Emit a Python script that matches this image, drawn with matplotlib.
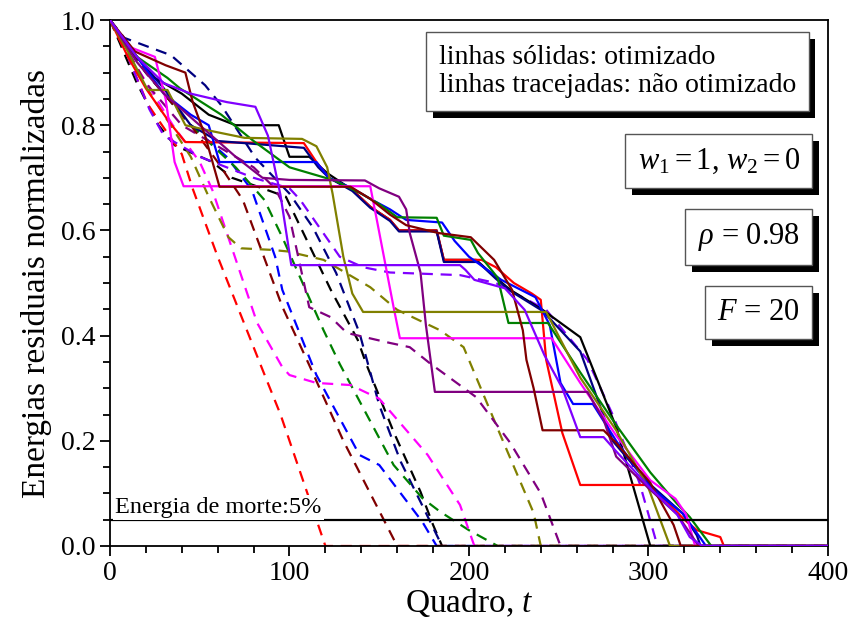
import numpy as np
import matplotlib
matplotlib.use('Agg')
import matplotlib.pyplot as plt
import matplotlib.patheffects as pe
from matplotlib.ticker import MultipleLocator

plt.rcParams['font.family'] = 'Liberation Serif'
plt.rcParams['mathtext.fontset'] = 'custom'
plt.rcParams['mathtext.rm'] = 'Liberation Serif'
plt.rcParams['mathtext.it'] = 'Liberation Serif:italic'

# ---- optimized runs (solid lines): (frame t, normalized residual energy)
preto_otim = [(0, 1), (10, .95), (25, .89), (40, .86), (55, .82), (70, .80), (94, .80), (100, .74), (111, .74),
              (121, .709), (135, .677), (145, .645), (156, .62), (161, .60), (182, .60), (186, .544), (204, .544),
              (215, .51), (223, .487), (241, .449), (262, .397), (282, .226), (301, 0), (400, 0)]
vermelho_otim = [(0, 1), (10, .93), (20, .87), (33, .806), (42, .768), (108, .766), (115, .73), (122, .70),
                 (135, .677), (145, .645), (156, .62), (161, .60), (182, .60), (186, .544), (207, .544), (215, .53),
                 (225, .50), (235, .48), (240, .468), (243, .354), (252, .215), (262, .116), (299, .116),
                 (310, .085), (320, .05), (327, .03), (340, .017), (342, 0), (400, 0)]
marinho_otim = [(0, 1), (15, .93), (30, .87), (45, .80), (60, .77), (108, .757), (116, .72), (122, .70),
                (135, .675), (145, .643), (156, .618), (161, .598), (182, .598), (186, .54), (205, .54), (215, .508),
                (223, .485), (241, .447), (262, .37), (280, .20), (300, .12), (319, .062), (327, .02), (329, 0),
                (400, 0)]
azul_otim = [(0, 1), (15, .93), (30, .86), (45, .82), (55, .80), (61, .73), (115, .73), (122, .70), (135, .68),
             (145, .66), (156, .64), (165, .62), (185, .615), (192, .58), (200, .55), (218, .506), (237, .473),
             (245, .42), (251, .31), (258, .27), (269, .27), (282, .20), (301, .112), (319, .062), (329, .015),
             (332, 0), (400, 0)]
verde_otim = [(0, 1), (15, .93), (32, .89), (39, .87), (62, .82), (80, .77), (100, .72), (125, .695), (140, .67),
              (150, .65), (160, .625), (182, .624), (186, .59), (201, .582), (205, .557), (216, .51), (222, .424),
              (244, .424), (262, .33), (282, .23), (301, .14), (316, .08), (323, .055), (335, 0), (400, 0)]
magenta_otim = [(0, 1), (10, .95), (25, .93), (31, .85), (36, .73), (41, .684), (145, .684), (149, .614),
                (158, .454), (161.5, .395), (246, .395), (262, .31), (282, .21), (301, .125), (315, .09),
                (321, .06), (326, 0), (400, 0)]
oliva_otim = [(0, 1), (10, .94), (21, .867), (32, .867), (42, .80), (55, .79), (75, .776), (107, .774),
              (115, .76), (121, .72), (124, .67), (130, .55), (135, .48), (141, .445), (243, .445), (262, .32),
              (282, .22), (300, .11), (312, 0), (400, 0)]
roxo_otim = [(0, 1), (15, .92), (30, .86), (50, .80), (70, .74), (85, .70), (100, .696), (142, .695), (150, .68),
             (161, .664), (165, .64), (167, .595), (173, .52), (176, .42), (181, .293), (266, .293), (275, .24),
             (282, .17), (300, .11), (316, .06), (325, .015), (328, 0), (400, 0)]
bordo_otim = [(0, 1), (14, .94), (31, .914), (42, .90), (46, .845), (53, .78), (61, .683), (134, .683),
              (145, .66), (156, .63), (165, .61), (183, .595), (201, .587), (214, .544), (224, .487), (230, .41),
              (232, .354), (236, .30), (241, .22), (275, .22), (282, .196), (301, .12), (314, .04), (318, 0),
              (400, 0)]
violeta_otim = [(0, 1), (15, .93), (30, .88), (45, .86), (65, .844), (81, .835), (88, .78), (95, .667),
                (101, .534), (195, .534), (198, .525), (203, .506), (220, .49), (231, .449), (242, .363),
                (252, .30), (262, .207), (275, .207), (282, .18), (301, .11), (316, .06), (323, .017), (330, 0),
                (400, 0)]

# ---- non-optimized runs (dashed lines)
preto_nao = [(0, 1), (15, .88), (27, .80), (36, .762), (57, .73), (68, .70), (85, .68), (98, .664), (123, .487),
             (138, .392), (143, .344), (158, .217), (173, .103), (180, .04), (185, 0), (400, 0)]
vermelho_nao = [(0, 1), (10, .93), (21, .84), (40, .745), (46, .68), (60, .55), (85, .335), (95, .25),
                (110, .10), (120, 0), (400, 0)]
marinho_nao = [(0, 1), (8, .966), (34, .933), (53, .876), (62, .838), (81, .738), (100, .67), (113, .606),
               (126, .519), (139, .405), (150, .268), (162, .16), (175, .07), (185, 0), (400, 0)]
azul_nao = [(0, 1), (20, .90), (45, .80), (65, .74), (79, .677), (92, .55), (96, .487), (115, .325),
            (139, .173), (150, .154), (174, .046), (182, 0), (400, 0)]
verde_nao = [(0, 1), (20, .90), (45, .80), (70, .72), (86, .658), (96, .587), (119, .41), (128, .346),
             (158, .154), (174, .091), (184, .065), (200, .03), (216, 0), (400, 0)]
magenta_nao = [(0, 1), (15, .91), (35, .80), (50, .73), (57, .677), (82, .424), (96, .34), (100, .325),
               (115, .31), (134, .306), (150, .28), (177, .173), (195, .078), (203, 0), (400, 0)]
oliva_nao = [(0, 1), (15, .90), (30, .82), (45, .74), (55, .664), (66, .587), (73, .566), (90, .563),
             (99, .56), (119, .544), (145, .492), (160, .449), (184, .41), (197, .378), (217, .215),
             (236, .063), (240, 0), (400, 0)]
roxo_nao = [(0, 1), (20, .88), (40, .80), (60, .76), (80, .72), (92, .68), (100, .626), (111, .454),
            (123, .435), (132, .405), (156, .386), (167, .378), (178, .348), (204, .283), (223, .196),
            (240, .10), (251, 0), (400, 0)]
bordo_nao = [(0, 1), (20, .90), (45, .80), (60, .73), (74, .658), (96, .455), (111, .344), (130, .20),
             (154, .04), (160, 0), (400, 0)]
violeta_nao = [(0, 1), (7, .956), (13, .905), (22, .83), (30, .78), (50, .74), (80, .70), (100, .68),
               (106, .658), (128, .55), (141, .53), (156, .52), (195, .515), (215, .50), (243, .449),
               (266, .354), (280, .25), (295, .12), (305, 0), (400, 0)]

cores = ['black', 'red', '#000080', 'blue', 'green', 'magenta', '#808000', '#800080', '#800000', '#8000FF']
series_nao = [preto_nao, vermelho_nao, marinho_nao, azul_nao, verde_nao, magenta_nao, oliva_nao, roxo_nao,
              bordo_nao, violeta_nao]
series_otim = [preto_otim, vermelho_otim, marinho_otim, azul_otim, verde_otim, magenta_otim, oliva_otim,
               roxo_otim, bordo_otim, violeta_otim]
energia_morte = 0.05

fig = plt.figure(figsize=(8.52, 6.22), dpi=100)
ax = fig.add_axes([0.1291, 0.1222, 0.8427, 0.8456])

for cor, s in zip(cores, series_nao):
    s = np.array(s)
    ax.plot(s[:, 0], s[:, 1], color=cor, lw=1.6, dashes=(5, 3.5), zorder=2)
for cor, s in zip(cores, series_otim):
    s = np.array(s)
    ax.plot(s[:, 0], s[:, 1], color=cor, lw=1.6, zorder=3)

# death energy threshold
ax.axhline(energia_morte, color='black', lw=1.6, zorder=4)
ax.text(3, energia_morte + 0.004, 'Energia de morte:5%', fontsize=17.5, va='bottom', ha='left', zorder=5,
        bbox=dict(boxstyle='square,pad=0.08', fc='white', ec='none'))

ax.set_xlim(0, 400)
ax.set_ylim(0, 1)
ax.xaxis.set_major_locator(MultipleLocator(100))
ax.xaxis.set_minor_locator(MultipleLocator(20))
ax.yaxis.set_major_locator(MultipleLocator(0.2))
ax.yaxis.set_minor_locator(MultipleLocator(0.05))
ax.yaxis.set_major_formatter(plt.FormatStrFormatter('%.1f'))
ax.tick_params(which='both', direction='out', labelsize=20, width=1.3)
ax.tick_params(which='major', length=7)
ax.tick_params(which='minor', length=5)
for sp in ax.spines.values():
    sp.set_linewidth(1.3)
ax.set_xlabel('Quadro, $t$', fontsize=24, labelpad=0)
ax.set_ylabel('Energias residuais normalizadas', fontsize=24, labelpad=6)


def caixa(x, y, texto, tam, pad, esp=1.05):
    t = ax.text(x, y, texto, transform=ax.transAxes, fontsize=tam, ha='right', va='center',
                multialignment='left', zorder=10, linespacing=esp,
                bbox=dict(boxstyle='square,pad=%g' % pad, fc='white', ec='#555555', lw=1))
    t.get_bbox_patch().set_path_effects([pe.SimplePatchShadow(offset=(5, -5), shadow_rgbFace='black', alpha=1),
                                         pe.Normal()])
    return t


caixa(0.9555, 0.902, 'linhas sólidas: otimizado\nlinhas tracejadas: não otimizado', 20, 0.45, esp=1.2)
caixa(0.9605, 0.732, '$w_1 = 1$, $w_2 = 0$', 22, 0.4)
caixa(0.9605, 0.5875, r'$\rho$ = 0.98', 22, 0.4)
caixa(0.9605, 0.4439, '$F$ = 20', 22, 0.4)

fig.savefig('out.png', dpi=100)
